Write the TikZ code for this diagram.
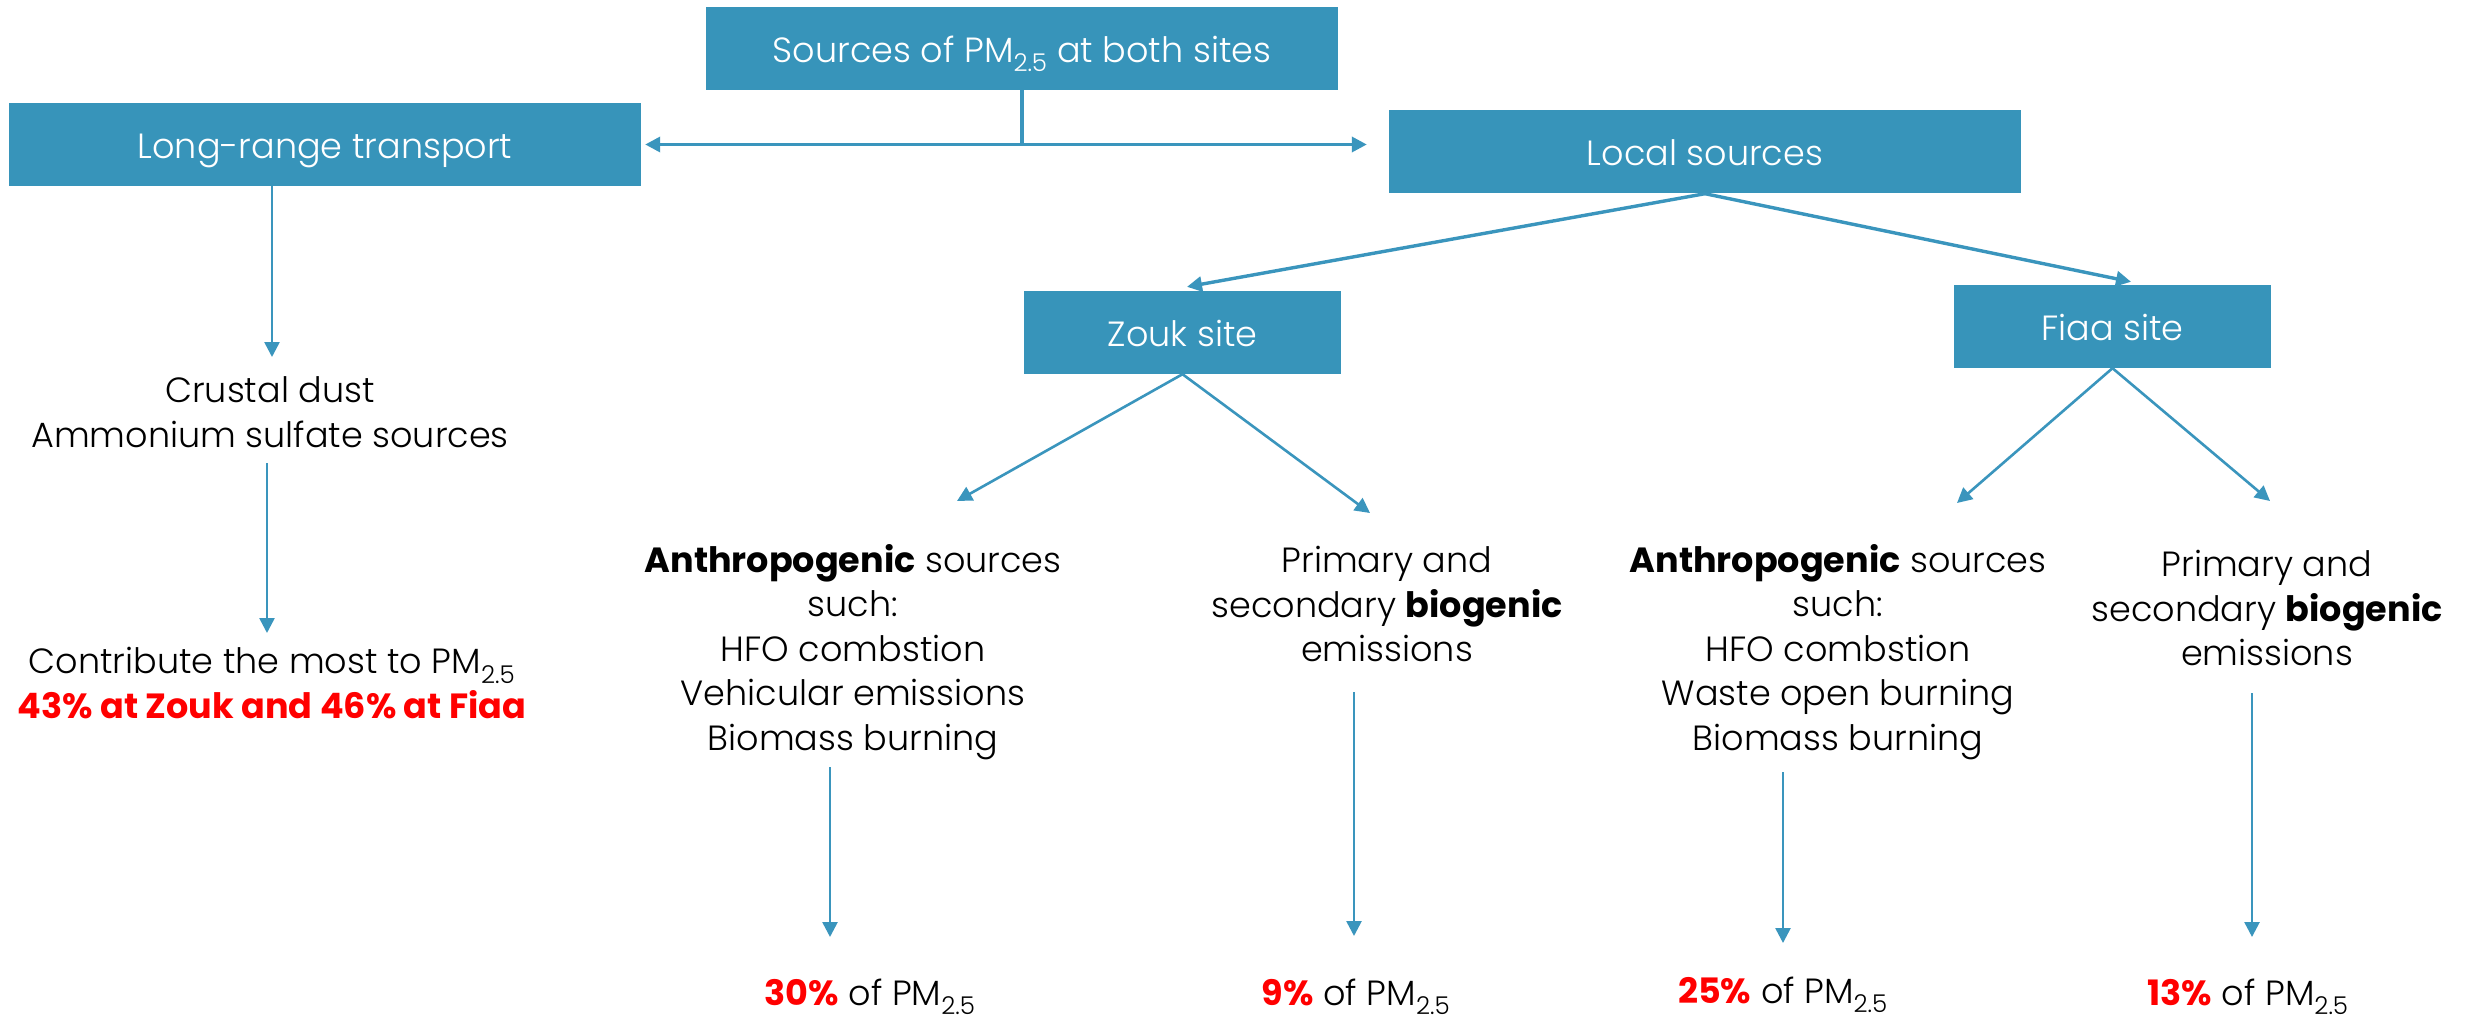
\documentclass[tikz,border=0pt]{standalone}
\usepackage{fontspec}
\setmainfont{Poppins}[UprightFont={* Light}, BoldFont={* Bold}]
\usetikzlibrary{arrows.meta}
\definecolor{boxblue}{HTML}{3794BA}
\definecolor{lineblue}{HTML}{3A95BD}
\definecolor{pctred}{HTML}{FF0000}
\newcommand\pmsub{PM\textsubscript{2.5}}
\newcommand\fsz{\fontsize{35}{44.5}\selectfont}
\begin{document}
\begin{tikzpicture}[x=1pt,y=-1pt,
  box/.style={rectangle, fill=boxblue, text=white, inner sep=0pt, minimum height=83pt, text height=31pt, text depth=3pt, font=\fsz},
  widebox/.style={box, minimum width=632pt},
  narrowbox/.style={box, minimum width=317pt},
  txt/.style={align=center, inner sep=0pt, font=\fsz},
  conn/.style={draw=lineblue, line width=2.6pt},
  bigconn/.style={draw=lineblue, line width=3.4pt},
  tip/.style={-{Triangle[length=15pt,width=15pt]}},
]
\fill[white] (0,0) rectangle (2466,1019);
\useasboundingbox (0,0) rectangle (2466,1019);

% boxes
\node[widebox] (top) at (1022,48.5) {Sources of \pmsub\ at both sites};
\node[widebox] (long) at (325,144.5) {Long-range transport};
\node[widebox] (local) at (1705,152) {Local sources};
\node[narrowbox] (zouk) at (1182.5,332.5) {Zouk site};
\node[narrowbox] (fiaa) at (2112.5,326.5) {Fiaa site};

% text blocks
\node[txt] (crust) at (270,412) {Crustal dust\\Ammonium sulfate sources};
\node[txt] (contrib) at (272,683) {Contribute the most to \pmsub\\\textcolor{pctred}{\bfseries 43\% at Zouk and 46\% at Fiaa}};
\node[txt] (zanth) at (853,652) {\textbf{Anthropogenic} sources\\such:\\HFO combstion\\Vehicular emissions\\Biomass burning};
\node[txt] (zbio) at (1387,604) {Primary and\\secondary \textbf{biogenic}\\emissions};
\node[txt] (fanth) at (1838,652) {\textbf{Anthropogenic} sources\\such:\\HFO combstion\\Waste open burning\\Biomass burning};
\node[txt] (fbio) at (2267,608) {Primary and\\secondary \textbf{biogenic}\\emissions};

\node[txt,anchor=base] (z30) at (870,1005) {\textcolor{pctred}{\bfseries 30\%} of \pmsub};
\node[txt,anchor=base] (z9) at (1356,1005) {\textcolor{pctred}{\bfseries 9\%} of \pmsub};
\node[txt,anchor=base] (f25) at (1783,1003) {\textcolor{pctred}{\bfseries 25\%} of \pmsub};
\node[txt,anchor=base] (f13) at (2248,1005) {\textcolor{pctred}{\bfseries 13\%} of \pmsub};

% connector end points
\coordinate (jn) at (top.south |- long.east);
\coordinate (crustin) at (272,357);
\coordinate (crustout) at (267,463);
\coordinate (contribin) at (267,633);
\coordinate (za) at (957,501);
\coordinate (zb) at (1370,513);
\coordinate (fa) at (1957,503);
\coordinate (fb) at (2270,501);
\coordinate (zanthout) at (830,767);
\coordinate (z30in) at (830,937);
\coordinate (zbioout) at (1354,692);
\coordinate (z9in) at (1354,936);
\coordinate (fanthout) at (1783,772);
\coordinate (f25in) at (1783,943);
\coordinate (fbioout) at (2252,693);
\coordinate (f13in) at (2252,937);

% connectors
\draw[bigconn] (top.south) -- (jn);
\draw[bigconn, {Triangle[length=15pt,width=15pt]}-{Triangle[length=15pt,width=15pt]}] ([xshift=4pt]long.east) -- ([xshift=-22pt]long.east -| local.west);
\draw[conn,tip] (long.south -| crustin) -- (crustin);
\draw[conn,tip] (crustout) -- (contribin);
\draw[bigconn,tip] (local.south) -- ([xshift=4.5pt,yshift=4pt]zouk.north);
\draw[bigconn,tip] (local.south) -- ([xshift=18.5pt,yshift=3pt]fiaa.north);
\draw[conn,tip] (zouk.south) -- (za);
\draw[conn,tip] (zouk.south) -- (zb);
\draw[conn,tip] (fiaa.south) -- (fa);
\draw[conn,tip] (fiaa.south) -- (fb);
\draw[conn,tip] (zanthout) -- (z30in);
\draw[conn,tip] (zbioout) -- (z9in);
\draw[conn,tip] (fanthout) -- (f25in);
\draw[conn,tip] (fbioout) -- (f13in);
\end{tikzpicture}
\end{document}
